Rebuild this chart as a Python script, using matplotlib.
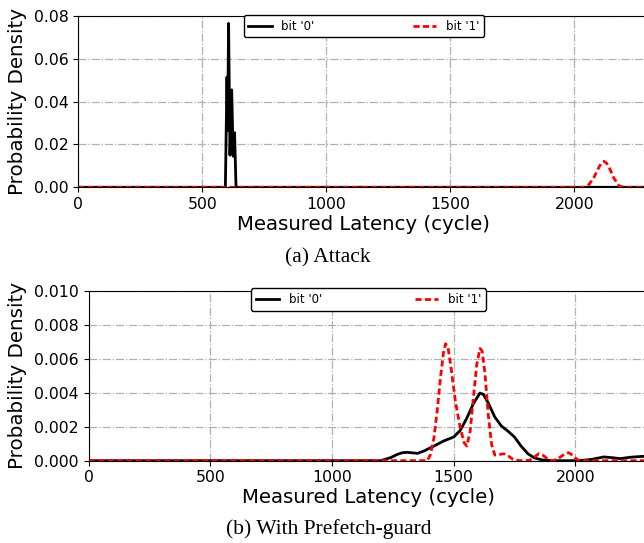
# Latency distributions: attack vs. with prefetch-guard
import matplotlib.pyplot as plt

# ------------------------------------------------------------
# Data

# (a) Attack
attack_bit0_x = [0, 593, 599.5, 602, 606, 611.5, 618.5, 624.5, 630, 636, 2300]
attack_bit0_y = [0, 0, 0.0515, 0.0265, 0.0765, 0.015, 0.0455, 0.0145, 0.0255, 0, 0]

attack_bit1_x = [0, 2040, 2060, 2080, 2100, 2110, 2120, 2130, 2140, 2160, 2180, 2200, 2300]
attack_bit1_y = [0, 0, 0.0014, 0.0048, 0.0095, 0.0114, 0.0121, 0.0113, 0.0094, 0.0042, 0.0007, 0, 0]

# (b) With Prefetch-guard
guard_bit0_x = [0, 1200, 1241, 1270, 1290, 1310, 1330, 1351, 1378, 1419, 1459, 1500,
                1527, 1554, 1581, 1608, 1622, 1642, 1669, 1696, 1723, 1750, 1777,
                1805, 1832, 1866, 1906, 2015, 2069, 2117, 2150, 2184, 2225, 2272, 2300]
guard_bit0_y = [0, 0, 0.00018, 0.00038, 0.00047, 0.00049, 0.00046, 0.00043, 0.00057,
                0.00086, 0.00116, 0.00139, 0.00178, 0.0025, 0.00335, 0.00398, 0.0039,
                0.0034, 0.00257, 0.00204, 0.00174, 0.00139, 0.00086, 0.00041, 0.00016,
                0.00004, 0, 0, 0.00008, 0.00022, 0.00018, 0.00012, 0.0002, 0.00025, 0.00026]

guard_bit1_x = [0, 1392, 1405, 1419, 1432, 1446, 1459, 1467, 1477, 1489, 1507, 1527,
                1543, 1554, 1568, 1581, 1595, 1608, 1617, 1629, 1642, 1656, 1669,
                1690, 1706, 1724, 1744, 1771, 1812, 1832, 1850, 1866, 1886, 1906,
                1927, 1954, 1972, 1988, 2008, 2028, 2300]
guard_bit1_y = [0, 0, 0.00037, 0.00135, 0.0029, 0.0049, 0.00645, 0.00688, 0.00664,
                0.0055, 0.0035, 0.00194, 0.00106, 0.00086, 0.00174, 0.0037, 0.00566,
                0.0066, 0.00645, 0.0051, 0.00272, 0.00096, 0.00033, 0.00037, 0.00041,
                0.00028, 0.00008, 0, 0.00002, 0.00022, 0.00041, 0.00033, 0.0001, 0,
                0.0001, 0.00037, 0.00047, 0.00033, 0.00006, 0, 0]

x_ticks = [0, 500, 1000, 1500, 2000]
attack_yticks = [0.00, 0.02, 0.04, 0.06, 0.08]
guard_yticks = [0.000, 0.002, 0.004, 0.006, 0.008, 0.010]

# ------------------------------------------------------------
fig = plt.figure(figsize=(6.44, 5.43), dpi=100)

# right spine sits just past the image edge, as in the cropped original
ax1 = fig.add_axes([0.1216, 0.6551, 0.8857, 0.3155])
ax2 = fig.add_axes([0.1377, 0.1516, 0.8690, 0.3131])


def style_axes(ax, yticks, yfmt):
    ax.set_xlim(0, 2300)
    ax.set_ylim(yticks[0], yticks[-1])
    ax.set_xticks(x_ticks)
    ax.set_yticks(yticks)
    ax.set_yticklabels([yfmt.format(v) for v in yticks])
    ax.tick_params(labelsize=11.3)
    ax.grid(True, linestyle='-.', color='#b0b0b0', linewidth=0.9)
    ax.set_axisbelow(True)
    ax.set_xlabel('Measured Latency (cycle)', fontsize=14.2, labelpad=2)
    ax.set_ylabel('Probability Density', fontsize=14.3, labelpad=5)


# (a) Attack
ax1.plot(attack_bit0_x, attack_bit0_y, color='black', linewidth=2, label="bit '0'")
ax1.plot(attack_bit1_x, attack_bit1_y, color='red', linestyle='--', dashes=(2.2, 1.2),
         linewidth=2, label="bit '1'")
style_axes(ax1, attack_yticks, '{:.2f}')
ax1.legend(loc='upper left', ncol=2, mode='expand', fontsize=8.5,
           bbox_to_anchor=(0.3784, 0.9724, 0.3731, 0), bbox_transform=fig.transFigure,
           borderaxespad=0, edgecolor='black', framealpha=1)

# (b) With Prefetch-guard
ax2.plot(guard_bit0_x, guard_bit0_y, color='black', linewidth=2, label="bit '0'")
ax2.plot(guard_bit1_x, guard_bit1_y, color='red', linestyle='--', dashes=(2.2, 1.2),
         linewidth=2, label="bit '1'")
style_axes(ax2, guard_yticks, '{:.3f}')
ax2.legend(loc='upper left', ncol=2, mode='expand', fontsize=8.5,
           bbox_to_anchor=(0.3898, 0.4691, 0.3649, 0), bbox_transform=fig.transFigure,
           borderaxespad=0, edgecolor='black', framealpha=1)

# Sub-captions in a Times-like font
fig.text(0.509, 1 - 258 / 543, '(a) Attack', ha='center', va='center',
         family='Liberation Serif', fontsize=15.5)
fig.text(0.511, 1 - 529 / 543, '(b) With Prefetch-guard', ha='center', va='center',
         family='Liberation Serif', fontsize=15.5)

fig.savefig('out.png', dpi=100)
